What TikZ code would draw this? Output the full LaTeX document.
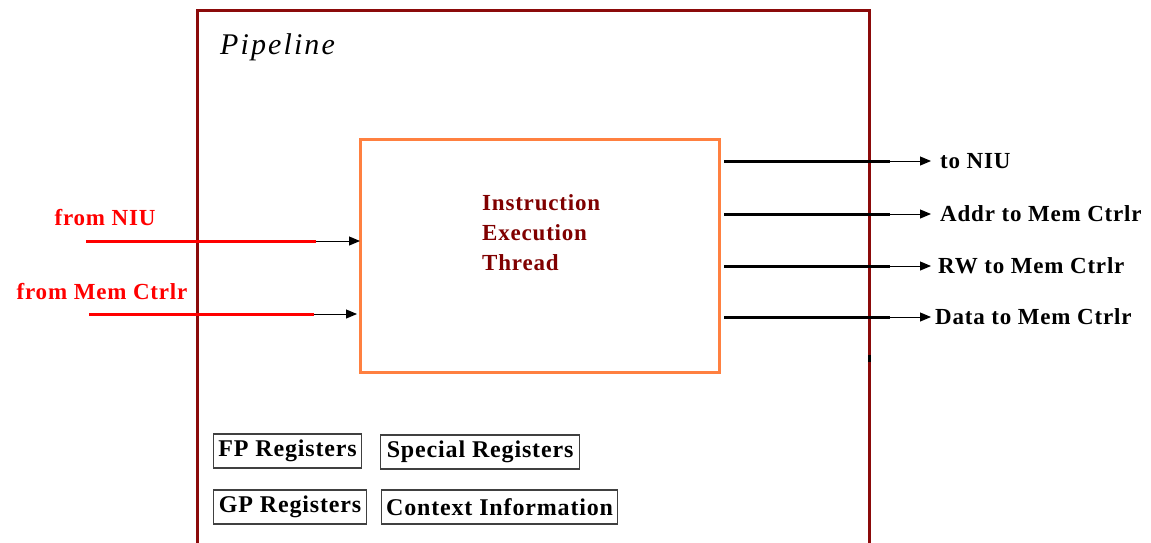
\documentclass[tikz,border=0pt]{standalone}
\usepackage{fontspec}
\setmainfont{Liberation Serif}
\newfontfamily\lblfont[LetterSpace=3.5]{Liberation Serif}
\newfontfamily\titlefont[LetterSpace=7]{Liberation Serif}
\usetikzlibrary{arrows.meta}
\definecolor{pipered}{HTML}{8B0A0A}
\definecolor{threadorange}{HTML}{FF8040}
\definecolor{threadtext}{HTML}{800000}
\tikzset{
  lbl/.style={font=\lblfont\fontsize{23}{27}\selectfont\bfseries, inner sep=0pt},
  regbox/.style={draw=black!75, line width=1.2pt, font=\lblfont\fontsize{24}{28}\selectfont\bfseries, inner sep=0pt, minimum height=34pt, anchor=west},
  inwire/.style={red, line width=3pt},
  outwire/.style={black, line width=3pt},
  tipwire/.style={black, line width=1pt, -{Triangle[length=11pt,width=9pt]}},
}
\begin{document}
\begin{tikzpicture}[x=1pt,y=-1pt]
\useasboundingbox (0,0) rectangle (1151,542);
\fill[white] (0,0) rectangle (1151,542);
% enclosing pipeline block (runs past the lower edge)
\draw[pipered, line width=3pt] (197,560) -- (197,10) -- (869,10) -- (869,560);
\node[anchor=base west, font=\titlefont\fontsize{30}{34}\selectfont\itshape, inner sep=0pt] (pipe) at (220,54) {Pipeline};
\fill[black] (867.5,355) rectangle (870.5,362);
% execution thread
\draw[threadorange, line width=3pt] (360,139) rectangle (719,372);
\node[anchor=west, align=left, text=threadtext, font=\lblfont\fontsize{23}{30}\selectfont\bfseries, inner sep=0pt] (iet) at (482,233) {Instruction\\Execution\\Thread};
\coordinate (thrW1) at (360,241);
\coordinate (thrW2) at (360,314);
% inputs
\node[lbl, text=red] (fniu) at (105,218) {from NIU};
\node[lbl, text=red] (fmem) at (102,292) {from Mem Ctrlr};
\coordinate (a1) at (86,241);  \coordinate (b1) at (316,241);
\coordinate (a2) at (89,314);  \coordinate (b2) at (314,314);
\draw[inwire] (a1) -- (b1);
\draw[tipwire] (b1) -- (thrW1);
\draw[inwire] (a2) -- (b2);
\draw[tipwire] (b2) -- ([xshift=-3pt]thrW2);
% outputs
\foreach \y/\tx/\name in {161/940/to NIU, 214/940/Addr to Mem Ctrlr, 266/938/RW to Mem Ctrlr, 317/935/Data to Mem Ctrlr}{
  \coordinate (s\y) at (724,\y);
  \coordinate (m\y) at (890,\y);
  \coordinate (e\y) at (931,\y);
  \draw[outwire] (s\y) -- (m\y);
  \draw[tipwire] (m\y) -- (e\y);
  \node[lbl, anchor=west] (o\y) at (\tx,\y) {\name};
}
% register files
\node[regbox, minimum width=148pt] (fp) at (213,451) {FP Registers};
\node[regbox, minimum width=199pt] (sp) at (380,452) {Special Registers};
\node[regbox, minimum width=153pt] (gp) at (213,507) {GP Registers};
\node[regbox, minimum width=236pt] (ci) at (381,507) {Context Information};
\end{tikzpicture}
\end{document}
